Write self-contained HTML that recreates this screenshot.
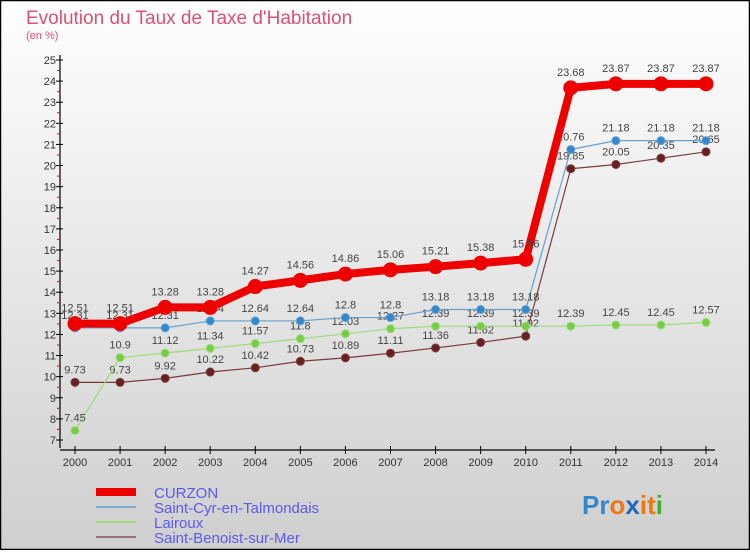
<!DOCTYPE html>
<html><head><meta charset="utf-8">
<style>
html,body{margin:0;padding:0;}
body{width:750px;height:550px;overflow:hidden;font-family:"Liberation Sans",sans-serif;}
svg text{font-family:"Liberation Sans",sans-serif;}
</style></head>
<body>
<svg id="chart" width="750" height="550" viewBox="0 0 750 550" xmlns="http://www.w3.org/2000/svg">
<defs>
<linearGradient id="bg" x1="0" y1="0" x2="0" y2="1">
<stop offset="0" stop-color="#ffffff"/><stop offset="1" stop-color="#cfcfcf"/>
</linearGradient>
</defs>
<rect x="0.5" y="0.5" width="749" height="549" fill="url(#bg)" stroke="#000" stroke-width="1.5"/>
<text x="26" y="24" font-size="19" fill="#e05070">Evolution du Taux de Taxe d'Habitation</text>
<text x="26" y="39" font-size="11" fill="#e05070">(en %)</text>
<g id="axes"></g>
<g id="series"></g>
<g id="legend">
 <rect x="96" y="488" width="40" height="8" fill="#ee0000"/>
 <text x="154" y="498" font-size="15" fill="#5a5aee">CURZON</text>
 <rect x="96" y="506" width="40" height="2" fill="#7aaad0"/>
 <text x="154" y="513" font-size="15" fill="#5a5aee">Saint-Cyr-en-Talmondais</text>
 <rect x="96" y="521" width="40" height="2" fill="#99dd77"/>
 <text x="154" y="528" font-size="15" fill="#5a5aee">Lairoux</text>
 <rect x="96" y="536" width="40" height="2" fill="#997070"/>
 <text x="154" y="543" font-size="15" fill="#5a5aee">Saint-Benoist-sur-Mer</text>
</g>
<g font-size="26" font-weight="bold">
 <text x="582" y="514"><tspan fill="#3388cc">Pr</tspan><tspan fill="#ee7711">o</tspan><tspan fill="#2266bb">x</tspan><tspan fill="#ee7711">i</tspan><tspan fill="#ee7711">t</tspan><tspan fill="#44aa33">i</tspan></text>
</g>
</svg>
<script>
const years = [2000,2001,2002,2003,2004,2005,2006,2007,2008,2009,2010,2011,2012,2013,2014];
const curzon = [12.51,12.51,13.28,13.28,14.27,14.56,14.86,15.06,15.21,15.38,15.56,23.68,23.87,23.87,23.87];
const saintCyr = [12.31,12.31,12.31,12.64,12.64,12.64,12.8,12.8,13.18,13.18,13.18,20.76,21.18,21.18,21.18];
const lairoux = [7.45,10.9,11.12,11.34,11.57,11.8,12.03,12.27,12.39,12.39,12.39,12.39,12.45,12.45,12.57];
const saintBenoist = [9.73,9.73,9.92,10.22,10.42,10.73,10.89,11.11,11.36,11.62,11.92,19.85,20.05,20.35,20.65];
const yTicks = [7,8,9,10,11,12,13,14,15,16,17,18,19,20,21,22,23,24,25];

const NS="http://www.w3.org/2000/svg";
const X0=75, X1=706, Y0=440, Y1=60, YMIN=7, YMAX=25;
function xs(i){return X0+(X1-X0)*i/(years.length-1);}
function ys(v){return Y0-(v-YMIN)*(Y0-Y1)/(YMAX-YMIN);}
function mk(tag,attrs,parent){const e=document.createElementNS(NS,tag);for(const k in attrs)e.setAttribute(k,attrs[k]);parent.appendChild(e);return e;}

const axes=document.getElementById('axes');
const ya=mk('line',{x1:60,y1:55,x2:60,y2:448,stroke:'#000','stroke-width':1.2},axes);


const xa=mk('line',{x1:60,y1:450,x2:715,y2:450,stroke:'#000','stroke-width':1.2},axes);


yTicks.forEach(t=>{
  const y=ys(t);
  mk('line',{x1:56,y1:y,x2:63,y2:y,stroke:'#000'},axes);
  if(t<YMAX) mk('line',{x1:57,y1:y-(Y0-Y1)/(YMAX-YMIN)/2,x2:60,y2:y-(Y0-Y1)/(YMAX-YMIN)/2,stroke:'#e00'},axes);
  const tx=mk('text',{x:56,y:y+4,'font-size':11,'text-anchor':'end',fill:'#333'},axes);
  tx.textContent=t;
  
  
});
years.forEach((yr,i)=>{
  const x=xs(i);
  mk('line',{x1:x,y1:446,x2:x,y2:454,stroke:'#000'},axes);
  const tx=mk('text',{x:x,y:466,'font-size':11,'text-anchor':'middle',fill:'#333'},axes);
  tx.textContent=yr;
  
  
});

const seriesG=document.getElementById('series');
function draw(vals,name,color,lineW,r,dotFill,labelOff){
  const g=mk('g',{},seriesG);
  
  
  const pts=vals.map((v,i)=>xs(i)+','+ys(v)).join(' ');
  const pl=mk('polyline',{points:pts,fill:'none',stroke:color,'stroke-width':lineW,'stroke-linejoin':'round'},g);
  
  
  vals.forEach((v,i)=>{
    const c=mk('circle',{cx:xs(i),cy:ys(v),r:r,fill:dotFill,stroke:color,'stroke-width':1},g);
    
    
    const t=mk('text',{x:xs(i),y:ys(v)-labelOff,'font-size':11,'text-anchor':'middle',fill:'#444'},g);
    t.textContent=v;
    
    
  });
}
draw(saintBenoist,'saint-benoist','#7a3a3a',1.2,4,'#662222',9);
draw(lairoux,'lairoux','#99dd77',1.2,4,'#77cc44',9);
draw(saintCyr,'saint-cyr','#66a0d0',1.2,4,'#3388cc',9);
draw(curzon,'curzon','#ee0000',8,7,'#ee0000',12);
</script>
</body></html>
